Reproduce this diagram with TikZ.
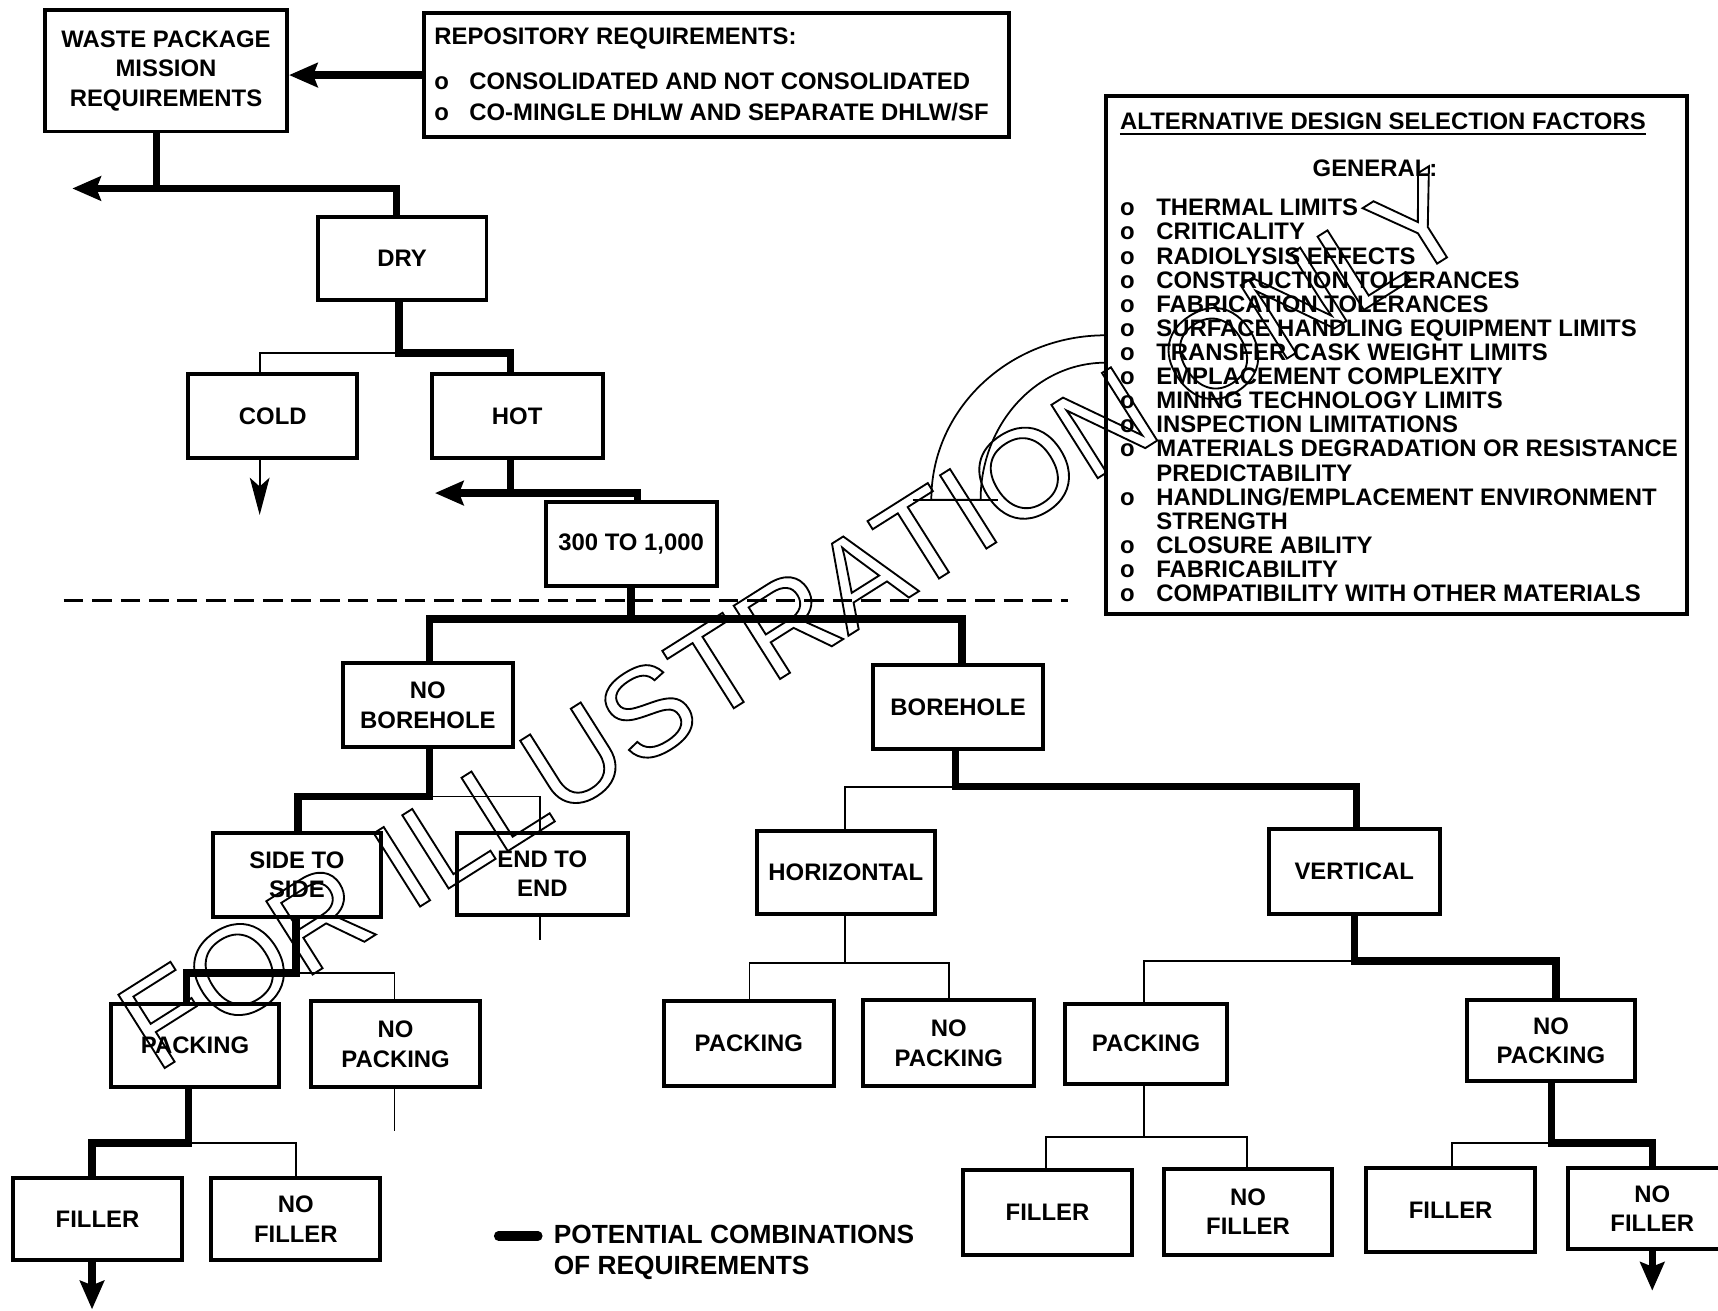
\documentclass[tikz,border=0pt]{standalone}
\usepackage{fontspec}
\setmainfont{Liberation Sans}
\newfontfamily\wmfont{Liberation Sans}
\usetikzlibrary{arrows.meta}

\begin{document}
\begin{tikzpicture}[x=0.5pt,y=-0.5pt,
  txt/.style={font=\fontsize{10.9}{13.5}\selectfont\bfseries, inner sep=0pt},
  legtxt/.style={font=\fontsize{12}{14.5}\selectfont\bfseries, inner sep=0pt},
  box/.style={draw, line width=1.8pt, align=center, inner sep=0pt, txt},
  thickc/.style={line width=3.4pt},
  thinc/.style={line width=0.85pt},
  bigtip/.style={-{Stealth[length=13pt,width=11pt,inset=2pt]}},
  coldtip/.style={-{Stealth[length=17pt,width=9pt,inset=4pt]}},
  wm/.style={font=\wmfont\fontsize{57.5}{60}\selectfont, inner sep=0pt},
  wmline/.style={line width=0.8pt}
]
\fill[white] (0,0) rectangle (1568,1196);
\useasboundingbox (0,0) rectangle (1568,1196);

% ---------- boxes ----------
\node[box, minimum width=110.5pt, minimum height=55.5pt] (wp) at (151.5,64.5)
  {WASTE PACKAGE\\MISSION\\REQUIREMENTS};
\node[draw, line width=1.8pt, minimum width=267pt, minimum height=56.5pt, inner sep=0pt] (repo) at (654,68.5) {};
\node[draw, line width=1.8pt, minimum width=265.5pt, minimum height=236pt, inner sep=0pt] (adsf) at (1274.5,324) {};

\node[box, minimum width=77pt, minimum height=38pt]   (dry)     at (367,236)     {DRY};
\node[box, minimum width=77pt, minimum height=38.5pt] (cold)    at (249,379.5)   {COLD};
\node[box, minimum width=78pt, minimum height=38.5pt] (hot)     at (472,379.5)   {HOT};
\node[box, minimum width=78pt, minimum height=38.5pt] (t300)    at (576,496.5)   {300 TO 1,000};
\node[box, minimum width=77.5pt, minimum height=38.5pt] (nobore) at (390.5,643.5) {NO\\BOREHOLE};
\node[box, minimum width=77.5pt, minimum height=38.5pt] (bore)   at (874.5,645.5) {BOREHOLE};
\node[box, minimum width=77pt, minimum height=38.5pt] (side)    at (271,798.5)   {SIDE TO\\SIDE};
\node[box, minimum width=78pt, minimum height=37.5pt] (endend)  at (495,797.5)   {END TO\\END};
\node[box, minimum width=77pt, minimum height=38pt]   (packL)   at (178,954)     {PACKING};
\node[box, minimum width=77pt, minimum height=39pt]   (nopackL) at (361,953)     {NO\\PACKING};
\node[box, minimum width=77pt, minimum height=37.5pt] (fillL)   at (89,1112.5)   {FILLER};
\node[box, minimum width=77pt, minimum height=37.5pt] (nofillL) at (270,1112.5)  {NO\\FILLER};
\node[box, minimum width=81pt, minimum height=38pt]   (horiz)   at (772,796)     {HORIZONTAL};
\node[box, minimum width=78pt, minimum height=38.5pt] (vert)    at (1236,795.5)  {VERTICAL};
\node[box, minimum width=77.5pt, minimum height=38.5pt] (packH) at (683.5,952.5) {PACKING};
\node[box, minimum width=78pt, minimum height=39pt]   (nopackH) at (866,952)     {NO\\PACKING};
\node[box, minimum width=74pt, minimum height=36.5pt] (packV)   at (1046,952.5)  {PACKING};
\node[box, minimum width=76.5pt, minimum height=37pt] (nopackV) at (1415.5,950)  {NO\\PACKING};
\node[box, minimum width=77pt, minimum height=38.5pt] (fillV1)  at (956,1106.5)  {FILLER};
\node[box, minimum width=77pt, minimum height=39pt]   (nofillV1) at (1139,1106)  {NO\\FILLER};
\node[box, minimum width=77pt, minimum height=38.5pt] (fillV2)  at (1324,1104.5) {FILLER};
\node[box, minimum width=77pt, minimum height=37pt]   (nofillV2) at (1508,1103)  {NO\\FILLER};

% ---------- repository requirements text ----------
\node[txt, anchor=base west] (rtitle) at (396,41) {REPOSITORY REQUIREMENTS:};
\node[txt, anchor=base west] (rb1) at (396,82) {o};
\node[txt, anchor=base west] (r1) at (428,82) {CONSOLIDATED AND NOT CONSOLIDATED};
\node[txt, anchor=base west] (rb2) at (396,110) {o};
\node[txt, anchor=base west] (r2) at (428,110) {CO-MINGLE DHLW AND SEPARATE DHLW/SF};

% ---------- selection factors text ----------
\node[txt, anchor=base west] (atitle) at (1022,118) {ALTERNATIVE DESIGN SELECTION FACTORS};
\draw[line width=1pt] ([yshift=-2.2pt]atitle.base west) -- ([yshift=-2.2pt]atitle.base east);
\node[txt, anchor=base] (gen) at (1255,161) {GENERAL:};
\foreach \t [count=\i from 0] in {{THERMAL LIMITS},{CRITICALITY},{RADIOLYSIS EFFECTS},
  {CONSTRUCTION TOLERANCES},{FABRICATION TOLERANCES},{SURFACE HANDLING EQUIPMENT LIMITS},
  {TRANSFER CASK WEIGHT LIMITS},{EMPLACEMENT COMPLEXITY},{MINING TECHNOLOGY LIMITS},
  {INSPECTION LIMITATIONS},{MATERIALS DEGRADATION OR RESISTANCE},{PREDICTABILITY},
  {HANDLING/EMPLACEMENT ENVIRONMENT},{STRENGTH},{CLOSURE ABILITY},{FABRICABILITY},
  {COMPATIBILITY WITH OTHER MATERIALS}}
  \node[txt, anchor=base west] (item\i) at (1055,{197+22*\i}) {\t};
\foreach \i in {0,...,10,12,14,15,16}
  \node[txt, anchor=base] (bul\i) at (1029,{197+22*\i}) {o};

% ---------- connectors ----------
\draw[thickc, bigtip] (repo.west) -- (wp.east |- repo.west);

\coordinate (wpj) at (143,172);
\coordinate (wpl) at (66,172);
\coordinate (wpr) at (362,172);
\draw[thickc] (wp.south -| wpj) -- (wpj);
\draw[thickc, bigtip] (dry.north -| wpr) -- (wpr) -- (wpl);

\coordinate (dj) at (364,322);
\coordinate (cx) at (237,0);
\coordinate (hx) at (466,0);
\draw[thinc] (dj) -| (cold.north -| cx);
\draw[thickc] (dry.south -| dj) -- (dj) -| (hot.north -| hx);
\coordinate (ce) at (237,470);
\draw[thinc, coldtip] (cold.south -| ce) -- (ce);

\coordinate (hj) at (466,450);
\coordinate (hl) at (397,450);
\coordinate (tx) at (582,0);
\draw[thickc] (hot.south -| hj) -- (hj);
\draw[thickc, bigtip] (t300.north -| tx) |- (hl);

\coordinate (tj) at (576,565);
\coordinate (nbx) at (392,0);
\coordinate (bx) at (878,0);
\draw[thickc] (t300.south -| tj) -- (tj);
\draw[thickc] (nobore.north -| nbx) |- (tj) -| (bore.north -| bx);

\coordinate (nj) at (392,727);
\coordinate (sx) at (272,0);
\coordinate (ex) at (493,0);
\draw[thinc] (nj) -| (endend.north -| ex);
\draw[thickc] (nobore.south -| nj) -- (nj) -| (side.north -| sx);
\coordinate (ee) at (493,858);
\draw[thinc] (endend.south -| ee) -- (ee);

\coordinate (sj) at (270,888);
\coordinate (plx) at (170,0);
\coordinate (nplx) at (360,0);
\draw[thinc] (sj) -| (nopackL.north -| nplx);
\draw[thickc] (side.south -| sj) -- (sj) -| (packL.north -| plx);
\coordinate (npe) at (360,1032);
\draw[thinc] (nopackL.south -| npe) -- (npe);

\coordinate (pj) at (172,1043);
\coordinate (flx) at (84,0);
\coordinate (nflx) at (270,0);
\draw[thinc] (pj) -| (nofillL.north -| nflx);
\draw[thickc] (packL.south -| pj) -- (pj) -| (fillL.north -| flx);
\coordinate (fe) at (84,1195);
\draw[thickc, bigtip] (fillL.south -| fe) -- (fe);

\coordinate (bj) at (872,718);
\coordinate (vx) at (1238,0);
\coordinate (hzx) at (771,0);
\draw[thinc] (bj) -| (horiz.north -| hzx);
\draw[thickc] (bore.south -| bj) -- (bj) -| (vert.north -| vx);

\coordinate (hzj) at (771,879);
\coordinate (phx) at (684,0);
\coordinate (nphx) at (866,0);
\draw[thinc] (horiz.south -| hzj) -- (hzj);
\draw[thinc] (packH.north -| phx) |- (hzj) -| (nopackH.north -| nphx);

\coordinate (vj) at (1236,877);
\coordinate (npvx) at (1420,0);
\coordinate (pvx) at (1044,0);
\draw[thinc] (vj) -| (packV.north -| pvx);
\draw[thickc] (vert.south -| vj) -- (vj) -| (nopackV.north -| npvx);

\coordinate (pvj) at (1044,1038);
\coordinate (f1x) at (955,0);
\coordinate (nf1x) at (1138,0);
\draw[thinc] (packV.south -| pvj) -- (pvj);
\draw[thinc] (fillV1.north -| f1x) |- (pvj) -| (nofillV1.north -| nf1x);

\coordinate (npj) at (1416,1043);
\coordinate (nf2x) at (1508,0);
\coordinate (f2x) at (1325,0);
\draw[thinc] (npj) -| (fillV2.north -| f2x);
\draw[thickc] (nopackV.south -| npj) -- (npj) -| (nofillV2.north -| nf2x);
\coordinate (nfe) at (1508,1178);
\draw[thickc, bigtip] (nofillV2.south -| nfe) -- (nfe);

% ---------- dashed divider ----------
\coordinate (dl) at (58,548);
\coordinate (dr) at (975,548);
\draw[line width=1pt, dash pattern=on 9pt off 4pt] (dl) -- (dr);

% ---------- legend ----------
\coordinate (lg1) at (455,1128);
\coordinate (lg2) at (491,1128);
\draw[line width=4.2pt, line cap=round] (lg1) -- (lg2);
\node[legtxt, anchor=base west] (leg1) at (505,1134.6) {POTENTIAL COMBINATIONS};
\node[legtxt, anchor=base west] (leg2) at (505,1163.6) {OF REQUIREMENTS};

% ---------- watermark ----------
\draw[wmline] (1009,306) arc[start angle=270, end angle=180, x radius=159, y radius=150]
  -- (895,456) arc[start angle=180, end angle=270, x radius=114, y radius=125];
\coordinate (wl) at (833,456);
\coordinate (wr) at (911,456);
\draw[wmline] (wl) -- (wr);
\node[wm, rotate=32.3, anchor=base west] (wmk) at (142,980)
  {\special{pdf:literal direct 1 Tr 0.85 w}FOR ILLUSTRATION ONLY\special{pdf:literal direct 0 Tr}};
\end{tikzpicture}
\end{document}
